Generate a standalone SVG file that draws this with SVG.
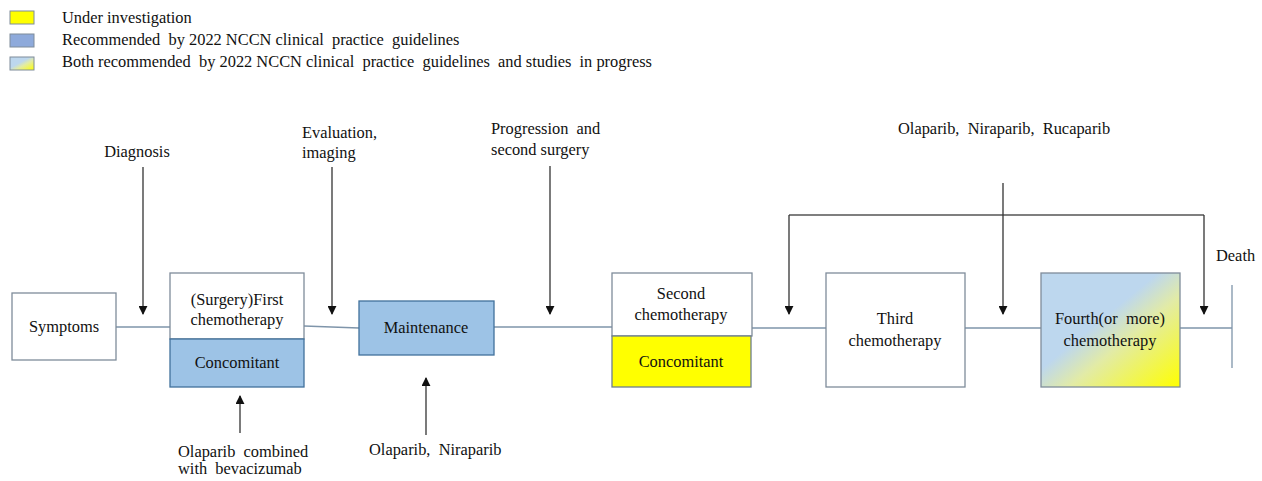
<svg xmlns="http://www.w3.org/2000/svg" width="1262" height="481" viewBox="0 0 1262 481">
<style>
text{font-family:"Liberation Serif","Times New Roman",serif;font-size:16.4px;fill:#111}
.c{text-anchor:middle}
.wbox{fill:#fff;stroke:#7f8c9a;stroke-width:1.3}
.bbox{fill:#9dc3e6;stroke:#41719c;stroke-width:1.3}
.ybox{fill:#ffff00;stroke:#6d7e8e;stroke-width:1.3}
.tl{fill:none;stroke:#7f95aa;stroke-width:1.3}
.ar{fill:none;stroke:#333;stroke-width:1.3;marker-end:url(#ah)}
.br{fill:none;stroke:#555;stroke-width:1.3}
</style>
<defs>
<marker id="ah" viewBox="0 0 10 10" refX="9" refY="5" markerWidth="9" markerHeight="9" markerUnits="userSpaceOnUse" orient="auto">
<path d="M0,0L10,5L0,10z" fill="#111"/>
</marker>
<linearGradient id="grad" x1="0" y1="0" x2="1" y2="1">
<stop offset="0.42" stop-color="#bdd7ee"/>
<stop offset="0.6" stop-color="#e2eba6"/>
<stop offset="1" stop-color="#ffff00"/>
</linearGradient>
</defs>
<g id="legend">
<rect x="10" y="11" width="24" height="13" fill="#ffff00" stroke="#7f8c9a"/>
<rect x="10" y="34" width="24" height="13" fill="#8eaadb" stroke="#7f8c9a"/>
<rect x="10" y="57" width="24" height="13" fill="url(#grad)" stroke="#7f8c9a"/>
<text x="62" y="23">Under investigation</text>
<text x="62" y="45" xml:space="preserve">Recommended  by 2022 NCCN clinical  practice  guidelines</text>
<text x="62" y="67" xml:space="preserve">Both recommended  by 2022 NCCN clinical  practice  guidelines  and studies  in progress</text>
</g>
<g id="connectors">
<path class="tl" d="M116,327H170M304,326L359,328M494,327H612M752,328H826M965,328H1041M1180,328H1232M1232,285V368"/>
<path class="br" d="M789,215H1204"/>
<path class="ar" d="M789,215V314"/>
<path class="ar" d="M1204,215V314"/>
<path class="ar" d="M1003,183V314"/>
<path class="ar" d="M143,167V314"/>
<path class="ar" d="M332,167V314"/>
<path class="ar" d="M550,166V314"/>
<path class="ar" d="M240,433V396"/>
<path class="ar" d="M426,435V378"/>
</g>
<g id="symptoms">
<rect class="wbox" x="12" y="293" width="104" height="67"/>
<text class="c" x="64" y="332">Symptoms</text>
</g>
<g id="first-chemo">
<rect class="wbox" x="170" y="273" width="134" height="66"/>
<rect class="bbox" x="170" y="339" width="134" height="48" fill="#8eb4e3"/>
<text class="c" x="237" y="305">(Surgery)First</text>
<text class="c" x="237" y="325">chemotherapy</text>
<text class="c" x="237" y="368">Concomitant</text>
</g>
<g id="maintenance">
<rect class="bbox" x="359" y="301" width="135" height="54"/>
<text class="c" x="426" y="333">Maintenance</text>
</g>
<g id="second-chemo">
<rect class="wbox" x="612" y="273" width="140" height="63"/>
<rect class="ybox" x="612" y="336" width="139" height="51"/>
<text class="c" x="681" y="299">Second</text>
<text class="c" x="681" y="320">chemotherapy</text>
<text class="c" x="681" y="367">Concomitant</text>
</g>
<g id="third-chemo">
<rect class="wbox" x="826" y="273" width="139" height="114"/>
<text class="c" x="895" y="324">Third</text>
<text class="c" x="895" y="346">chemotherapy</text>
</g>
<g id="fourth-chemo">
<rect x="1041" y="273" width="139" height="114" fill="url(#grad)" stroke="#7f8c9a" stroke-width="1.3"/>
<text class="c" x="1110" y="324" xml:space="preserve">Fourth(or  more)</text>
<text class="c" x="1110" y="346">chemotherapy</text>
</g>
<g id="labels">
<text class="c" x="137" y="157">Diagnosis</text>
<text x="302" y="138">Evaluation,</text>
<text x="302" y="158">imaging</text>
<text x="491" y="134" xml:space="preserve">Progression  and</text>
<text x="491" y="155">second surgery</text>
<text x="898" y="134" xml:space="preserve">Olaparib,  Niraparib,  Rucaparib</text>
<text x="1216" y="261">Death</text>
<text x="178" y="457" xml:space="preserve">Olaparib  combined</text>
<text x="178" y="474" xml:space="preserve">with  bevacizumab</text>
<text x="369" y="455" xml:space="preserve">Olaparib,  Niraparib</text>
</g>
</svg>
